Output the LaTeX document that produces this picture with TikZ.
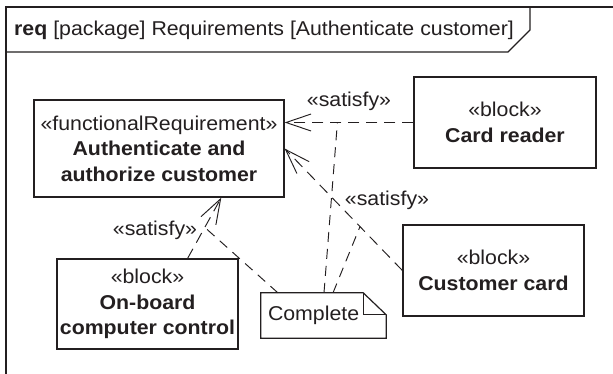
\documentclass[tikz,border=0pt]{standalone}
\usepackage{fontspec}
\setmainfont[FakeStretch=1.065]{Liberation Sans}
\usetikzlibrary{arrows.meta,calc}
\definecolor{ink}{HTML}{231F20}
\begin{document}
\begin{tikzpicture}[x=1pt,y=-1pt,
  every node/.style={text=ink, font=\fontsize{20}{25.5}\selectfont},
  box/.style={draw=ink, line width=1.2pt, rectangle, align=center, inner sep=0pt},
  dep/.style={draw=ink, line width=0.95pt, dash pattern=on 11pt off 7pt, -{Straight Barb[length=25pt,width=17pt]}},
  noteline/.style={draw=ink, line width=0.95pt, dash pattern=on 10pt off 7pt},
  frameline/.style={draw=ink, line width=1.2pt},
  lbl/.style={anchor=base, inner sep=0pt}]
\useasboundingbox (0,0) rectangle (613,373);
\fill[white] (0,0) rectangle (613,373);
% frame
\draw[frameline] (6,380) -- (6,7) -- (620,7);
\draw[frameline] (6,52) -- (508,52) -- (530,30) -- (530,7);
\node[anchor=base west, inner sep=0pt] (title) at (14,35) {\textbf{req} [package] Requirements [Authenticate customer]};
% boxes
\node[box, minimum width=250pt, minimum height=97pt] (fr) at (159,148.5) {«functionalRequirement»\\\textbf{Authenticate and}\\\textbf{authorize customer}};
\node[box, minimum width=182pt, minimum height=91pt] (cr) at (505,122.5) {«block»\\\textbf{Card reader}};
\node[box, minimum width=181pt, minimum height=91pt] (cc) at (493.5,270.5) {«block»\\\textbf{Customer card}};
\node[box, minimum width=181pt, minimum height=90pt] (ob) at (147.5,304) {«block»\\\textbf{On-board}\\\textbf{computer control}};
% note
\node[minimum width=125pt, minimum height=45pt, inner xsep=7pt, inner ysep=0pt, text width=111pt, align=left] (note) at (323.5,315.5) {Complete};
\draw[frameline] (note.north west) -- ($(note.north east)+(-23,0)$) -- ($(note.north east)+(0,22)$) -- (note.south east) -- (note.south west) -- cycle;
\draw[frameline] ($(note.north east)+(-23,0)$) -- ($(note.north east)+(-23,22)$) -- ($(note.north east)+(0,22)$);
% dependencies
\draw[dep] (cr.west) -- (cr.west -| fr.east) coordinate[pos=0.59] (d1);
\draw[dep] (cc.west) -- (fr.east) coordinate[pos=0.36] (d2);
\draw[dep] ($(ob.north west)!0.72!(ob.north east)$) -- ($(fr.south west)!0.748!(fr.south east)$) coordinate[pos=0.51] (d3);
% labels
\node[lbl] (s1) at (349,106) {«satisfy»};
\node[lbl] (s2) at (387,205) {«satisfy»};
\node[lbl] (s3) at (155,235) {«satisfy»};
% note anchors
\draw[noteline] ($(note.north west)!0.136!(note.north east)$) -- (d3);
\draw[noteline] ($(note.north west)!0.504!(note.north east)$) -- (d1);
\draw[noteline] ($(note.north west)!0.576!(note.north east)$) -- (d2);
\end{tikzpicture}
\end{document}
